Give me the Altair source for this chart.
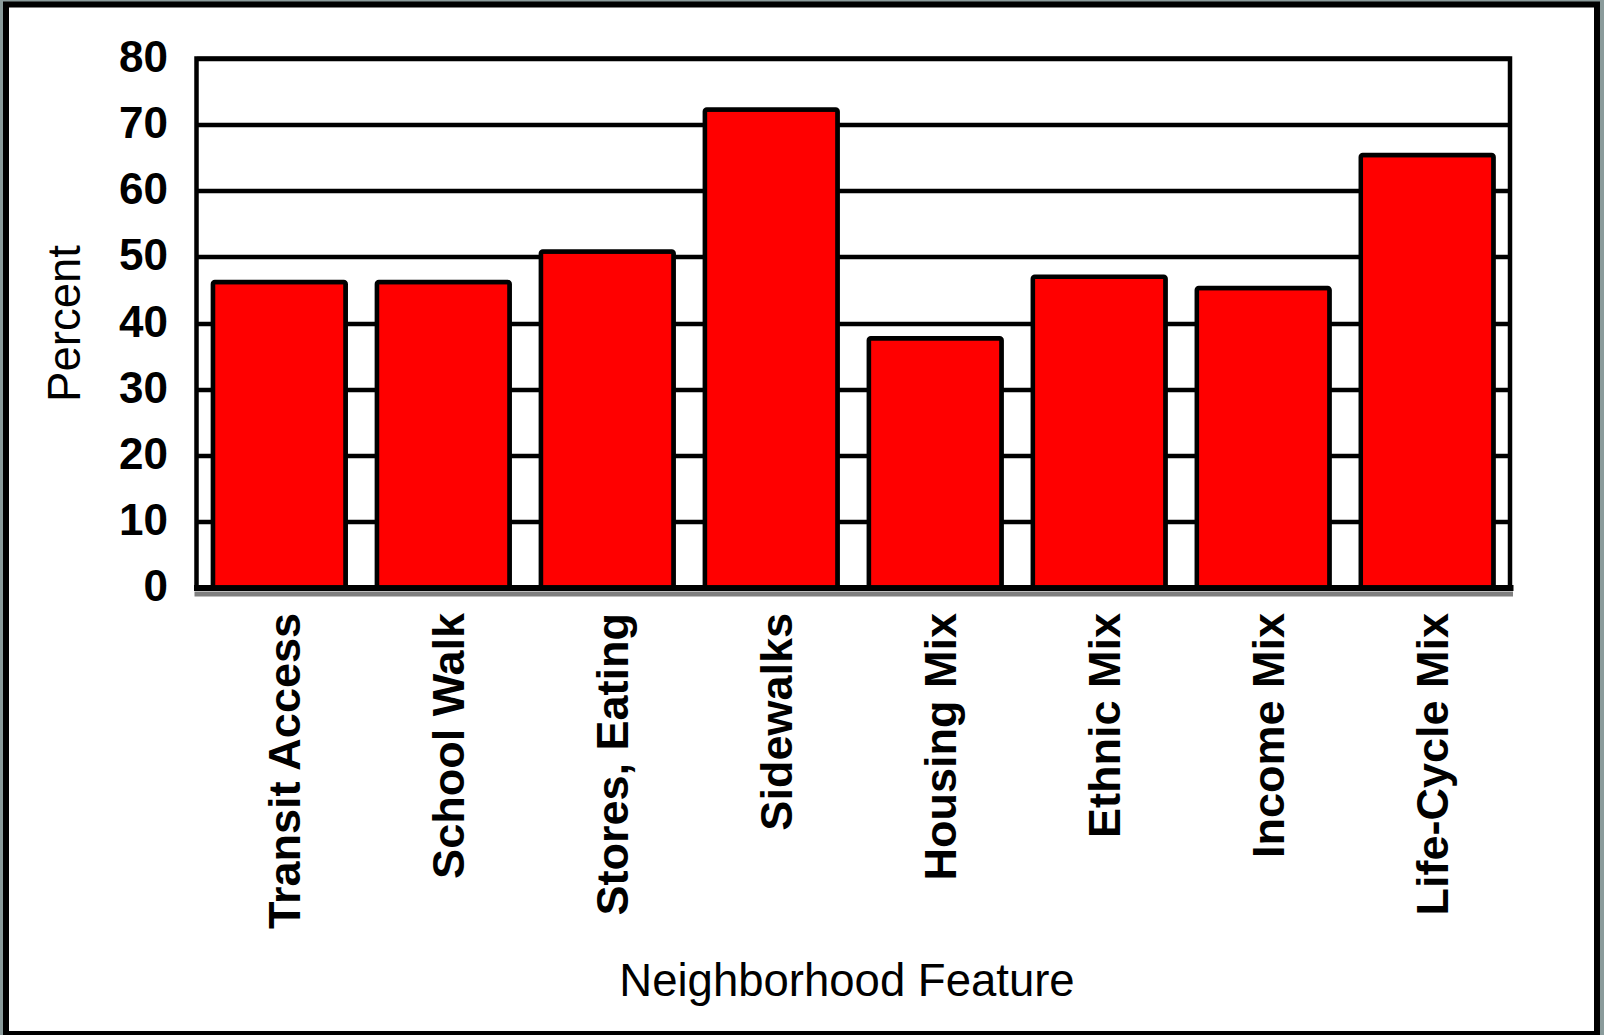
import altair as alt
import pandas as pd

# ---- data ----
categories = ["Transit Access", "School Walk", "Stores, Eating", "Sidewalks",
              "Housing Mix", "Ethnic Mix", "Income Mix", "Life-Cycle Mix"]
percent = [46.2, 46.2, 50.8, 72.3, 37.7, 47.0, 45.3, 65.4]
y_ticks = [0, 10, 20, 30, 40, 50, 60, 70, 80]

df = pd.DataFrame({"feature": categories, "percent": percent})
one = pd.DataFrame({"k": [0]})

# ---- layout ----
W, H = 1313.5, 529
PL, PT = 196.5, 58.5
PR = 1604 - PL - W
PB = 1035 - PT - H
FONT = "Liberation Sans"

x_enc = alt.X(
    "feature:N", sort=categories, title="Neighborhood Feature",
    scale=alt.Scale(paddingInner=0.19, paddingOuter=0.1),
    axis=alt.Axis(
        labelAngle=-90, labelAlign="right", labelBaseline="middle",
        labelFont=FONT, labelFontSize=45, labelFontWeight="bold",
        labelColor="black", labelPadding=25, labelOffset=7, labelLimit=600,
        ticks=False, domain=True, domainColor="black", domainWidth=6,
        domainCap="square", grid=False,
        titleFont=FONT, titleFontSize=45.5, titleFontWeight="normal",
        titleColor="black", titleBaseline="alphabetic", titleAlign="center",
        titleX=650, titleY=408,
    ),
)
y_enc = alt.Y(
    "percent:Q", title="Percent",
    scale=alt.Scale(domain=[0, 80], nice=False),
    axis=alt.Axis(
        values=y_ticks, domain=False, ticks=False,
        grid=True, gridColor="black", gridWidth=4.5, gridOpacity=1,
        labelFont=FONT, labelFontSize=44, labelFontWeight="bold",
        labelColor="black", labelPadding=29,
        titleFont=FONT, titleFontSize=45.5, titleFontWeight="normal",
        titleColor="black", titlePadding=29,
    ),
)

frame_gray = alt.Chart(one).mark_rect(
    fill="transparent", stroke="#8a9b9b", strokeWidth=10
).encode(
    x=alt.value(-PL), x2=alt.value(W + PR),
    y=alt.value(-PT), y2=alt.value(H + PB + 5),
)
frame_black = alt.Chart(one).mark_rect(
    fill="transparent", stroke="black", strokeWidth=6
).encode(
    x=alt.value(6 - PL), x2=alt.value(1597 - PL),
    y=alt.value(4.5 - PT), y2=alt.value(1034 - PT),
)

bars = alt.Chart(df).mark_bar(
    fill="#ff0000", stroke="black", strokeWidth=4.5, cornerRadius=2
).encode(x=x_enc, y=y_enc)

shadow = alt.Chart(one).mark_rule(
    color="#7f7f7f", strokeWidth=5, yOffset=6.5
).encode(y=alt.datum(0), x=alt.value(-2), x2=alt.value(W + 3))

chart = alt.layer(frame_gray, frame_black, bars, shadow).properties(
    width=W, height=H,
    autosize=alt.AutoSizeParams(type="none"),
    padding={"left": PL, "top": PT, "right": PR, "bottom": PB},
    background="white",
).configure_view(
    stroke="black", strokeWidth=4.5, fill="white"
)

chart.save("out.html", embed_options={"renderer": "svg", "actions": False})
